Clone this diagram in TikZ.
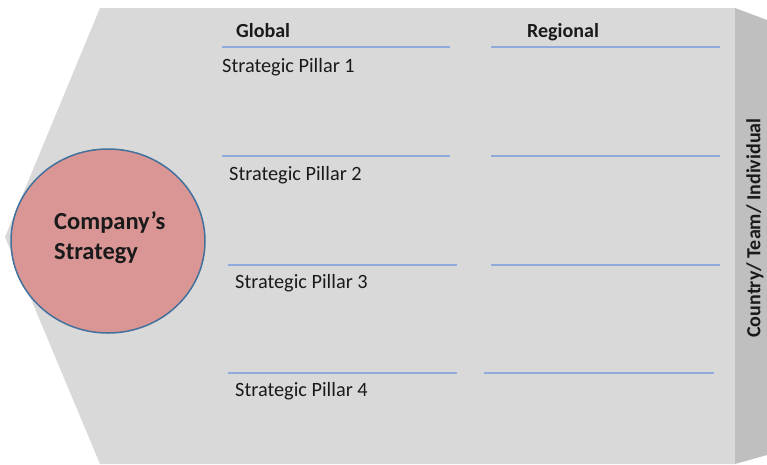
\documentclass[tikz,border=0pt]{standalone}
\usepackage{fontspec}
\setmainfont{Carlito}
\usetikzlibrary{shapes.geometric}
\definecolor{frontgrey}{HTML}{D9D9D9}
\definecolor{sidegrey}{HTML}{BFBFBF}
\definecolor{rulecol}{HTML}{8FAADC}
\definecolor{corefill}{HTML}{D99694}
\definecolor{coreedge}{HTML}{41719C}
\definecolor{inkcol}{HTML}{1A1A1A}
\begin{document}
\begin{tikzpicture}[x=1pt,y=-1pt,text=inkcol,
  rule/.style={draw=rulecol,line width=1.1pt},
  pillar/.style={anchor=base west,inner sep=0pt,font=\fontsize{20.3}{24}\selectfont},
  head/.style={anchor=base west,inner sep=0pt,font=\fontsize{20}{24}\selectfont\bfseries}]
\useasboundingbox (0,0) rectangle (767,464);
% front panel with notched left side
\fill[frontgrey] (100,8) -- (735,8) -- (735,464) -- (100,464) -- (5,237) -- cycle;
% side face of the panel
\fill[sidegrey] (735,8) -- (767,20) -- (767,455) -- (735,464) -- cycle;
\node[rotate=90,font=\fontsize{20}{24}\selectfont\bfseries,inner sep=0pt] (side) at (755,228) {Country/ Team/ Individual};
% core circle
\node[ellipse,draw=coreedge,line width=1.5pt,fill=corefill,minimum width=194pt,minimum height=184pt,inner sep=0pt] (core) at (108,241) {};
\node[align=left,font=\fontsize{24.5}{30}\selectfont\bfseries,inner sep=0pt,anchor=west] (coretext) at (54,238) {Company’s\\Strategy};
% column headings
\node[head] (global) at (236,37) {Global};
\node[head] (regional) at (527,37) {Regional};
% rules between rows
\draw[rule] (222,47) -- (450,47);
\draw[rule] (491,47) -- (720,47);
\draw[rule] (222,156) -- (450,156);
\draw[rule] (491,156) -- (720,156);
\draw[rule] (228,265) -- (457,265);
\draw[rule] (491,265) -- (720,265);
\draw[rule] (228,373) -- (457,373);
\draw[rule] (484,373) -- (714,373);
% pillar labels
\node[pillar] (p1) at (222,72) {Strategic Pillar 1};
\node[pillar] (p2) at (229,180) {Strategic Pillar 2};
\node[pillar] (p3) at (235,288) {Strategic Pillar 3};
\node[pillar] (p4) at (235,396) {Strategic Pillar 4};
\end{tikzpicture}
\end{document}
